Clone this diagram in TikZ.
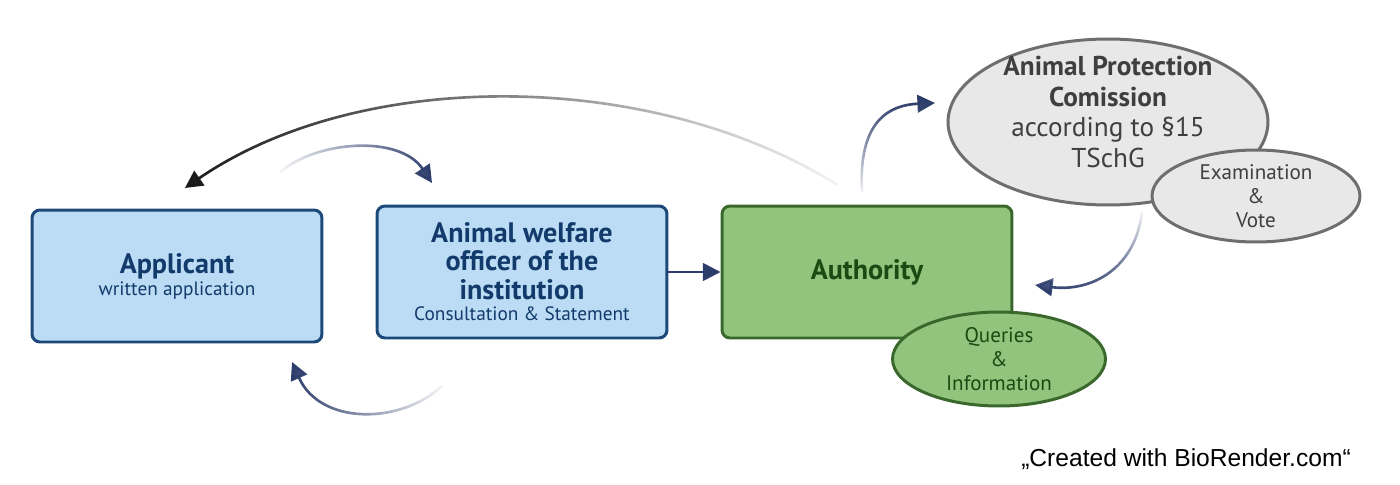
\documentclass[tikz,border=0pt]{standalone}
\usepackage{fontspec}
\setmainfont{PT Sans}
\newfontfamily\creditfont{Liberation Sans}
\usetikzlibrary{arrows.meta,shapes.geometric,fadings}
\definecolor{boxblue}{HTML}{BBDCF4}
\definecolor{edgeblue}{HTML}{1B4A7A}
\definecolor{textblue}{HTML}{123A6B}
\definecolor{boxgreen}{HTML}{93C47D}
\definecolor{edgegreen}{HTML}{3A682C}
\definecolor{textgreen}{HTML}{1B4A12}
\definecolor{ovalgray}{HTML}{E8E8E8}
\definecolor{edgegray}{HTML}{6E6E6E}
\definecolor{textgray}{HTML}{3F3F3F}
\definecolor{arrownavy}{HTML}{2D3D6B}
\newcommand{\ttl}{\fontsize{16}{16}\selectfont\bfseries}
\newcommand{\sub}{\fontsize{11}{12.5}\selectfont}
\newcommand{\ovl}{\fontsize{12}{13.6}\selectfont}
\tikzfading[name=fadeoutright, left color=transparent!0, middle color=transparent!0, right color=transparent!95]
\tikzfading[name=fadeoutleft, left color=transparent!95, middle color=transparent!0, right color=transparent!0]
\tikzfading[name=fadeoutdown, top color=transparent!0, middle color=transparent!0, bottom color=transparent!95]
\tikzfading[name=fadeoutup, top color=transparent!95, middle color=transparent!0, bottom color=transparent!0]
\tikzset{
    stagebox/.style={draw=edgeblue, fill=boxblue, line width=1.7pt, rounded corners=4.5pt,
        minimum width=5.8cm, minimum height=2.64cm, text=textblue, align=center,
        font=\fontsize{16}{16}\selectfont},
    authbox/.style={stagebox, draw=edgegreen, fill=boxgreen, text=textgreen},
    grayoval/.style={ellipse, draw=edgegray, fill=ovalgray, line width=1.7pt, inner sep=0pt},
    greenoval/.style={grayoval, draw=edgegreen, fill=boxgreen},
    ovaltext/.style={align=center, font=\ovl, inner sep=0pt},
    flow/.style={arrownavy, line width=1.5pt, -{Triangle[length=10pt,width=10pt]}},
}
\begin{document}
\begin{tikzpicture}[x=0.02cm,y=-0.02cm]
    \useasboundingbox (0,0) rectangle (1400,484);
    % --- --- --- Boxes
    \node[stagebox] (applicant) at (177,276) {{\ttl Applicant}\\[-3.5pt]{\sub written application}};
    \node[stagebox] (officer) at (522,272) {{\ttl Animal welfare}\\{\ttl officer of the}\\{\ttl institution}\\[-3.5pt]{\sub Consultation \& Statement}};
    \node[authbox] (authority) at (867,272) {{\ttl Authority}};
    % --- --- --- Ovals
    \node[greenoval, minimum width=4.26cm, minimum height=1.88cm] (queries) at (999,359) {};
    \node[ovaltext, text=textgreen] (queriestext) at (queries) {Queries\\\&\\Information};
    \node[grayoval, minimum width=6.4cm, minimum height=3.32cm] (commission) at (1108,122) {};
    \node[align=center, inner sep=0pt, text=textgray, font=\fontsize{15.5}{17.6}\selectfont] (commissiontext) at (1108,112)
        {\textbf{Animal Protection}\\\textbf{Comission}\\according to §15\\TSchG};
    \node[grayoval, minimum width=4.16cm, minimum height=1.84cm] (examination) at (1256,196) {};
    \node[ovaltext, text=textgray] (examinationtext) at (examination) {Examination\\\&\\Vote};
    % --- --- --- Credit
    \node[font=\creditfont\fontsize{14}{16}\selectfont] (credit) at (1186,459) {„Created with BioRender.com“};
    % === === === Arrow ends
    \coordinate (backstart) at (838,185);
    \coordinate (backend) at (185,188);
    \coordinate (adviseA) at (280,172);
    \coordinate (adviseB) at (432,183);
    \coordinate (replyA) at (442,386);
    \coordinate (replyB) at (292,362);
    \coordinate (askA) at (862,192);
    \coordinate (askB) at (935,103);
    \coordinate (voteA) at (1142,212);
    \coordinate (voteB) at (1035,285);
    % === === === Arrows
    \draw[flow, black!90, path fading=fadeoutright] (backstart) .. controls (650,68) and (360,68) .. (backend);
    \draw[flow, path fading=fadeoutleft] (adviseA) .. controls (318,140) and (400,135) .. (adviseB);
    \draw[flow, path fading=fadeoutright] (replyA) .. controls (400,425) and (320,425) .. (replyB);
    \draw[flow] (officer.east) -- (authority.west);
    \draw[flow, path fading=fadeoutdown] (askA) .. controls (858,120) and (890,105) .. (askB);
    \draw[flow, path fading=fadeoutup] (voteA) .. controls (1135,270) and (1090,292) .. (voteB);
\end{tikzpicture}
\end{document}
